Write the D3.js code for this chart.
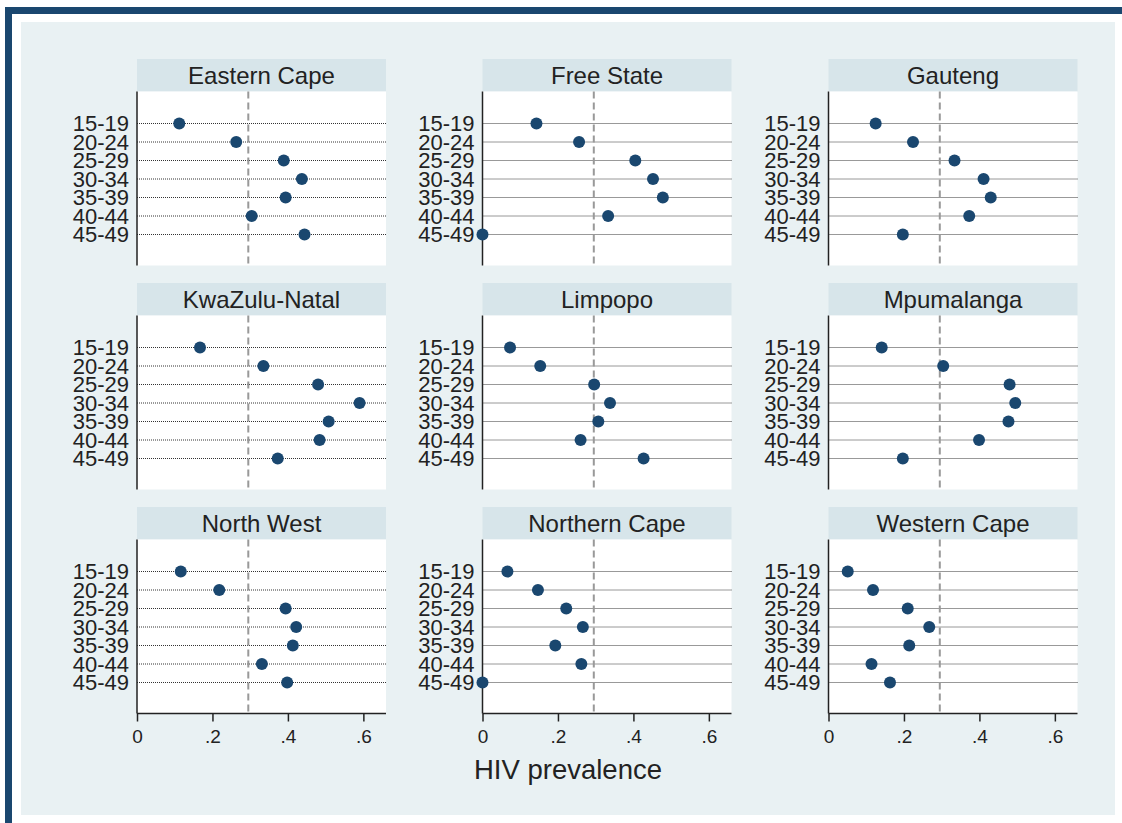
<!DOCTYPE html>
<html>
<head>
<meta charset="utf-8">
<script src="https://cdn.jsdelivr.net/npm/d3@7"></script>
<style>
  html, body { margin: 0; padding: 0; background: #fff; }
  svg { display: block; font-family: "Liberation Sans", Arial, sans-serif; }
</style>
</head>
<body>
<div id="chart"></div>
<script>
// dot chart of HIV prevalence by age group, one panel per province

const W = 1122, H = 823;

const provinces = ["Eastern Cape", "Free State", "Gauteng",
                   "KwaZulu-Natal", "Limpopo", "Mpumalanga",
                   "North West", "Northern Cape", "Western Cape"];
const ageGroups = ["15-19", "20-24", "25-29", "30-34", "35-39", "40-44", "45-49"];

// prevalence per age group
const easternCape  = [0.112, 0.263, 0.389, 0.437, 0.394, 0.304, 0.444];
const freeState    = [0.143, 0.256, 0.405, 0.452, 0.478, 0.333, 0.000];
const gauteng      = [0.125, 0.224, 0.334, 0.411, 0.430, 0.373, 0.197];
const kwazuluNatal = [0.167, 0.335, 0.480, 0.590, 0.508, 0.484, 0.373];
const limpopo      = [0.073, 0.153, 0.296, 0.338, 0.307, 0.260, 0.427];
const mpumalanga   = [0.141, 0.304, 0.480, 0.495, 0.477, 0.399, 0.197];
const northWest    = [0.116, 0.218, 0.394, 0.422, 0.413, 0.331, 0.398];
const northernCape = [0.066, 0.147, 0.222, 0.266, 0.193, 0.262, 0.000];
const westernCape  = [0.051, 0.118, 0.210, 0.267, 0.214, 0.114, 0.163];

const series = [easternCape, freeState, gauteng, kwazuluNatal, limpopo,
                mpumalanga, northWest, northernCape, westernCape];

const refLine = 0.295;          // dashed national reference
const xTicks = [0, 0.2, 0.4, 0.6];
const xTitle = "HIV prevalence";

const navy = "#1a476f";

// layout
const panelW = 249, stripH = 32.5, plotH = 174;
const colLeft = [137, 482.5, 828.5];
const rowTop = [59, 283, 507];

const x = d3.scaleLinear().domain([0, 0.66]).range([0, panelW]);
const y = d3.scalePoint().domain(ageGroups).range([32, 143]);
const fmt = d => d === 0 ? "0" : d3.format(".1f")(d).replace(/^0/, "");

const svg = d3.select("#chart").append("svg")
  .attr("width", W).attr("height", H);

// stata-ish frame: blue outer border, white gap, light background
svg.append("rect").attr("x", 5).attr("y", 7).attr("width", W).attr("height", H)
  .attr("fill", navy);
svg.append("rect").attr("x", 12).attr("y", 14).attr("width", W).attr("height", H)
  .attr("fill", "#fff");
svg.append("rect").attr("x", 21).attr("y", 22).attr("width", 1094).attr("height", 793)
  .attr("fill", "#e9f1f3");

provinces.forEach((name, i) => {
  const col = i % 3, row = Math.floor(i / 3);
  const g = svg.append("g")
    .attr("transform", `translate(${colLeft[col]},${rowTop[row]})`);

  // strip
  g.append("rect").attr("width", panelW).attr("height", stripH).attr("fill", "#d7e5ea");
  g.append("text")
    .attr("x", panelW / 2).attr("y", stripH / 2 + 8.5)
    .attr("text-anchor", "middle")
    .attr("font-size", 24).attr("fill", "#222")
    .text(name);

  const p = g.append("g").attr("transform", `translate(0,${stripH})`);
  p.append("rect").attr("width", panelW).attr("height", plotH).attr("fill", "#fff");

  // dotted lines for each age group
  p.selectAll("line.grid").data(ageGroups).join("line")
    .attr("class", "grid")
    .attr("x1", 0).attr("x2", panelW)
    .attr("y1", d => y(d)).attr("y2", d => y(d))
    .attr("stroke", "#333").attr("stroke-width", 1)
    .attr("stroke-dasharray", "1,1");

  // reference line
  p.append("line")
    .attr("x1", x(refLine)).attr("x2", x(refLine))
    .attr("y1", 0).attr("y2", plotH)
    .attr("stroke", "#999").attr("stroke-width", 2)
    .attr("stroke-dasharray", "7,4");

  // y axis
  const yAxis = p.append("g").call(d3.axisLeft(y).tickSize(0).tickPadding(8));
  yAxis.select(".domain").remove();
  yAxis.selectAll("text").attr("font-size", 22).attr("fill", "#222")
    .attr("font-family", "Liberation Sans, Arial, sans-serif");
  p.append("line").attr("x1", 0).attr("x2", 0).attr("y1", 0).attr("y2", plotH)
    .attr("stroke", "#222").attr("stroke-width", 1.5);

  // x axis only on the bottom row
  if (row === 2) {
    const xAxis = p.append("g").attr("transform", `translate(0,${plotH})`)
      .call(d3.axisBottom(x).tickValues(xTicks).tickFormat(fmt).tickSize(8).tickPadding(8));
    xAxis.select(".domain").attr("stroke", "#222").attr("stroke-width", 1.5)
      .attr("d", `M0,0H${panelW}`);
    xAxis.selectAll(".tick line").attr("stroke", "#222").attr("stroke-width", 1.5);
    xAxis.selectAll("text").attr("font-size", 19).attr("fill", "#222")
      .attr("font-family", "Liberation Sans, Arial, sans-serif");
  }

  // dots
  p.selectAll("circle").data(series[i]).join("circle")
    .attr("cx", d => x(d))
    .attr("cy", (d, j) => y(ageGroups[j]))
    .attr("r", 6)
    .attr("fill", navy);
});

svg.append("text")
  .attr("x", 568).attr("y", 779)
  .attr("text-anchor", "middle")
  .attr("font-size", 27.5).attr("fill", "#222")
  .text(xTitle);
</script>
</body>
</html>
